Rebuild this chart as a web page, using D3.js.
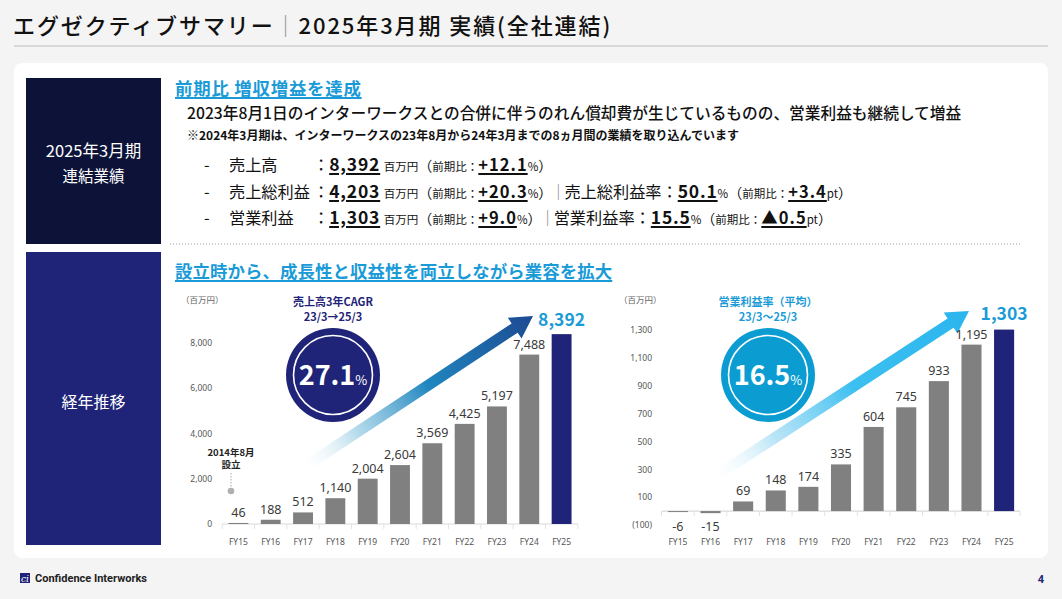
<!DOCTYPE html>
<html>
<head>
<meta charset="utf-8">
<script src="https://cdn.jsdelivr.net/npm/d3@7"></script>
<style>
body { margin: 0; background: #f4f4f4; font-family: "Noto Sans CJK JP", "Noto Sans", sans-serif; }
#page { position: relative; width: 1062px; height: 599px; overflow: hidden; }
#page svg { position: absolute; left: 0; top: 0; }
.t { position: absolute; white-space: nowrap; color: #111; }
.u { text-decoration: underline; text-underline-offset: 2px; text-decoration-thickness: 1.5px; }
.row { position: absolute; left: 204px; height: 24px; line-height: 24px; white-space: nowrap; font-size: 16.2px; color: #111; }
.row .dash { display: inline-block; width: 25px; }
.row .lab { display: inline-block; width: 84px; }
.row .big { font-size: 17.5px; font-weight: 700; letter-spacing: 0.8px; }
.row .mid { font-size: 16.5px; font-weight: 700; letter-spacing: 1px; }
.row .sm { font-size: 11.5px; }
.row .par { font-size: 14px; }
.row .bar { color: #777; font-weight: 300; margin: 0 -2px; }
</style>
</head>
<body>
<div id="page"></div>
<script>
const years = ["FY15", "FY16", "FY17", "FY18", "FY19", "FY20", "FY21", "FY22", "FY23", "FY24", "FY25"];
const sales = [46, 188, 512, 1140, 2004, 2604, 3569, 4425, 5197, 7488, 8392];
const opProfit = [-6, -15, 69, 148, 174, 335, 604, 745, 933, 1195, 1303];
const salesTicks = [0, 2000, 4000, 6000, 8000];
const profitTicks = [-100, 100, 300, 500, 700, 900, 1100, 1300];

const navy = "#1f2478", cyan = "#1a9bd7", gray = "#808080";
const num = d => (d < 0 ? "-" : "") + d3.format(",")(Math.abs(d));

const page = d3.select("#page");
const svg = page.append("svg").attr("width", 1062).attr("height", 599);

// header line, card, side boxes
svg.append("line").attr("x1", 14).attr("x2", 1048).attr("y1", 46).attr("y2", 46)
    .attr("stroke", "#bdbdbd").attr("stroke-width", 1);
svg.append("rect").attr("x", 14).attr("y", 63).attr("width", 1034).attr("height", 495)
    .attr("rx", 8).attr("fill", "#fff");
svg.append("rect").attr("x", 26).attr("y", 78).attr("width", 135).attr("height", 166).attr("fill", "#0d1338");
svg.append("rect").attr("x", 26).attr("y", 252).attr("width", 135).attr("height", 293).attr("fill", navy);
svg.append("line").attr("x1", 170).attr("x2", 1022).attr("y1", 244).attr("y2", 244)
    .attr("stroke", "#999").attr("stroke-dasharray", "1,2");

function boxText(txt, y, size) {
    svg.append("text").attr("x", 93.5).attr("y", y).attr("text-anchor", "middle")
        .attr("fill", "#fff").attr("font-size", size).text(txt);
}
boxText("2025年3月期", 157, 16.5);
boxText("連結業績", 182, 15.5);
boxText("経年推移", 408, 16);

// gradients for arrows
const defs = svg.append("defs");
function grad(id, len, stops) {
    const g = defs.append("linearGradient").attr("id", id).attr("gradientUnits", "userSpaceOnUse")
        .attr("x1", 0).attr("y1", 0).attr("x2", len).attr("y2", 0);
    stops.forEach(s => g.append("stop").attr("offset", s[0]).attr("stop-color", s[1]).attr("stop-opacity", s[2]));
}
function arrow(x1, y1, x2, y2, id, stops, w, hl, hw) {
    const len = Math.hypot(x2 - x1, y2 - y1);
    const ang = Math.atan2(y2 - y1, x2 - x1) * 180 / Math.PI;
    grad(id, len, stops);
    const b = len - hl;
    svg.append("path")
        .attr("transform", "translate(" + x1 + "," + y1 + ") rotate(" + ang + ")")
        .attr("d", "M0," + (-w / 2) + "L" + b + "," + (-w / 2) + "L" + b + "," + (-hw / 2) + "L" + len + ",0L" + b + "," + (hw / 2) + "L" + b + "," + (w / 2) + "L0," + (w / 2) + "Z")
        .attr("fill", "url(#" + id + ")");
}

function chart(cfg) {
    const x = d3.scaleBand().domain(years).range(cfg.xr).paddingInner(0.385).paddingOuter(cfg.po);
    const y = d3.scaleLinear().domain(cfg.yd).range(cfg.yr);
    const g = svg.append("g");
    const y0 = y(0);

    g.append("g").attr("transform", "translate(" + cfg.axisX + ",0)")
        .call(d3.axisLeft(y).tickValues(cfg.ticks).tickSize(0).tickPadding(0).tickFormat(cfg.fmt))
        .call(a => a.select(".domain").remove())
        .selectAll("text").attr("font-size", 8.5).attr("fill", "#555").attr("font-family", "Noto Sans, sans-serif");

    g.append("text").attr("x", cfg.unitX).attr("y", 303).attr("font-size", 8.5).attr("fill", "#666").text("（百万円）");

    // baseline with separators
    g.append("line").attr("x1", cfg.xr[0]).attr("x2", cfg.xr[1]).attr("y1", y0).attr("y2", y0)
        .attr("stroke", "#d9d9d9").attr("stroke-width", 1.2);
    const seps = years.map(d => x(d) - x.step() * x.paddingInner() / 2).concat([cfg.xr[1]]);
    g.selectAll(".sep").data(seps).join("line").attr("class", "sep")
        .attr("x1", d => d).attr("x2", d => d).attr("y1", y0).attr("y2", y0 + 5)
        .attr("stroke", "#e3e3e3");

    g.append("g").attr("transform", "translate(0," + cfg.xAxisY + ")")
        .call(d3.axisBottom(x).tickSize(0).tickPadding(0))
        .call(a => a.select(".domain").remove())
        .selectAll("text").attr("font-size", 8.5).attr("fill", "#555").attr("font-family", "Noto Sans, sans-serif");

    const last = years.length - 1;
    g.selectAll(".bar").data(cfg.values).join("rect").attr("class", "bar")
        .attr("x", (d, i) => x(years[i])).attr("width", x.bandwidth())
        .attr("y", d => Math.min(y(d), y0)).attr("height", d => Math.max(Math.abs(y(d) - y0), 1))
        .attr("fill", (d, i) => i === last ? navy : gray);

    g.selectAll(".val").data(cfg.values.slice(0, last)).join("text").attr("class", "val")
        .attr("x", (d, i) => x(years[i]) + x.bandwidth() / 2)
        .attr("y", d => d >= 0 ? y(d) - 6 : y0 + 20)
        .attr("text-anchor", "middle").attr("font-size", 12.5).attr("fill", "#3a3a3a")
        .attr("font-family", "Noto Sans, sans-serif")
        .text(num);

    g.append("text").attr("x", x(years[last]) + x.bandwidth() / 2).attr("y", y(cfg.values[last]) - cfg.bigGap)
        .attr("text-anchor", "middle").attr("font-size", 17.5).attr("font-weight", 700).attr("fill", cyan)
        .text(num(cfg.values[last]));
    return { x, y };
}

// arrows drawn behind circles
arrow(300, 470, 533, 316, "ga",
    [[0, "#ffffff", 0], [0.25, "#9fd0e6", 0.8], [0.55, "#1f86bf", 1], [1, "#1d4a92", 1]], 11, 22, 25);
arrow(710, 480, 969, 311, "gb",
    [[0, "#ffffff", 0], [0.25, "#a8def5", 0.8], [0.55, "#3dc0f0", 1], [1, "#2bb5ee", 1]], 11, 22, 25);

chart({ xr: [222, 578], po: 0.2, yd: [0, 8000], yr: [524, 343], ticks: salesTicks, fmt: d3.format(","),
    axisX: 212, unitX: 181, xAxisY: 539, values: sales, bigGap: 8 });
chart({ xr: [662, 1020], po: 0.18, yd: [-100, 1300], yr: [525, 330], ticks: profitTicks,
    fmt: d => d < 0 ? "(" + d3.format(",")(-d) + ")" : d3.format(",")(d),
    axisX: 652, unitX: 619, xAxisY: 539, values: opProfit, bigGap: 10 });

// founding annotation
svg.append("text").attr("x", 231).attr("y", 456).attr("text-anchor", "middle").attr("font-size", 9.5)
    .attr("font-weight", 700).attr("fill", "#222").text("2014年8月");
svg.append("text").attr("x", 231).attr("y", 468).attr("text-anchor", "middle").attr("font-size", 9.5)
    .attr("font-weight", 700).attr("fill", "#222").text("設立");
svg.append("line").attr("x1", 231).attr("x2", 231).attr("y1", 473).attr("y2", 487)
    .attr("stroke", "#aaa").attr("stroke-dasharray", "1.5,1.5");
svg.append("circle").attr("cx", 231).attr("cy", 491).attr("r", 3.3).attr("fill", "#b0b0b0");

// KPI circles
function badge(cx, cy, col, val, l1, l2, lc) {
    svg.append("circle").attr("cx", cx).attr("cy", cy).attr("r", 47).attr("fill", col);
    svg.append("circle").attr("cx", cx).attr("cy", cy).attr("r", 39.5).attr("fill", "none")
        .attr("stroke", "#fff").attr("stroke-width", 1.6);
    const t = svg.append("text").attr("x", cx).attr("y", cy + 10).attr("text-anchor", "middle").attr("fill", "#fff");
    t.append("tspan").attr("font-size", 27).attr("font-weight", 700).text(val);
    t.append("tspan").attr("font-size", 13).text("%");
    svg.append("text").attr("x", cx).attr("y", 306).attr("text-anchor", "middle").attr("font-size", 11)
        .attr("font-weight", 700).attr("fill", lc).text(l1);
    svg.append("text").attr("x", cx).attr("y", 321).attr("text-anchor", "middle").attr("font-size", 11)
        .attr("font-weight", 700).attr("fill", lc).text(l2);
}
badge(333, 375, navy, "27.1", "売上高3年CAGR", "23/3→25/3", navy);
badge(768, 375, "#0b9dd2", "16.5", "営業利益率（平均）", "23/3〜25/3", cyan);

// footer
svg.append("rect").attr("x", 20).attr("y", 573).attr("width", 10).attr("height", 10).attr("fill", navy);
svg.append("text").attr("x", 25).attr("y", 581.5).attr("text-anchor", "middle").attr("font-size", 9)
    .attr("font-style", "italic").attr("fill", "#fff").attr("font-family", "DejaVu Serif").text("ci");
svg.append("text").attr("x", 35).attr("y", 582).attr("font-size", 11).attr("font-weight", 700)
    .attr("font-family", "Liberation Sans Narrow, Roboto, sans-serif").attr("fill", "#222").text("Confidence Interworks");
svg.append("text").attr("x", 1041).attr("y", 583).attr("text-anchor", "middle").attr("font-size", 11)
    .attr("font-weight", 700).attr("fill", navy).attr("font-family", "Roboto, sans-serif").text("4");

// HTML text blocks
function txt(html, left, top, style) {
    page.append("div").attr("class", "t").attr("style", "left:" + left + "px;top:" + top + "px;" + style).html(html);
}
txt("エグゼクティブサマリー<span style='color:#888;font-weight:300'>｜</span>2025年3月期 実績(全社連結)", 13, 7,
    "font-size:22px;font-weight:500;line-height:34px;letter-spacing:1.9px;");
txt("<span class='u'>前期比 増収増益を達成</span>", 175, 76,
    "font-size:17.4px;font-weight:700;line-height:24px;letter-spacing:0.8px;color:" + cyan + ";");
txt("2023年8月1日のインターワークスとの合併に伴うのれん償却費が生じているものの、営業利益も継続して増益", 187, 101,
    "font-size:15.7px;font-weight:500;line-height:24px;");
txt("※2024年3月期は、インターワークスの23年8月から24年3月までの8ヵ月間の業績を取り込んでいます", 187, 126,
    "font-size:12px;font-weight:700;line-height:18px;");
txt("<span class='u'>設立時から、成長性と収益性を両立しながら業容を拡大</span>", 175, 259,
    "font-size:17.4px;font-weight:700;line-height:24px;letter-spacing:0.1px;color:" + cyan + ";");

const rows = [
    ["売上高", "8,392", "+12.1", "", "", ""],
    ["売上総利益", "4,203", "+20.3", "売上総利益率", "50.1", "+3.4"],
    ["営業利益", "1,303", "+9.0", "営業利益率", "15.5", "▲0.5"]
];
rows.forEach((r, i) => {
    let h = "<span class='dash'>-</span><span class='lab'>" + r[0] + "</span>：" +
        "<span class='big u'>" + r[1] + "</span> <span class='sm'>百万円</span><span class='par'>（</span>" +
        "<span class='sm'>前期比：</span><span class='mid u'>" + r[2] + "</span><span class='sm'>%</span><span class='par'>）</span>";
    if (r[3]) {
        h += "<span class='bar'>｜</span>" + r[3] + "：<span class='big u'>" + r[4] + "</span><span class='sm'>%</span>" +
            "<span class='par'>（</span><span class='sm'>前期比：</span><span class='mid u'>" + r[5] + "</span><span class='sm'>pt</span><span class='par'>）</span>";
    }
    page.append("div").attr("class", "row").style("top", (152 + i * 26.5) + "px").html(h);
});
</script>
</body>
</html>
